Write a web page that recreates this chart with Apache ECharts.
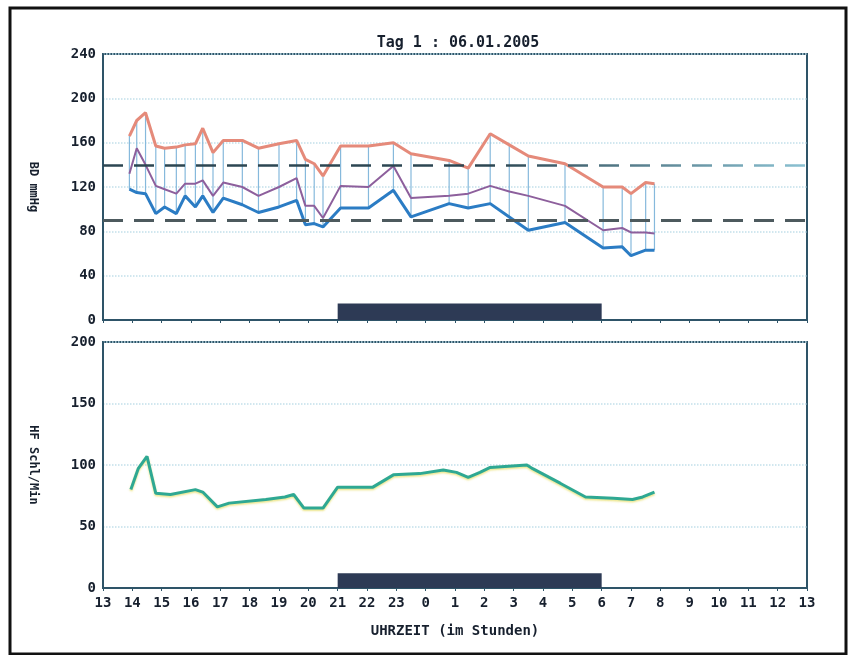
<!DOCTYPE html>
<html lang="de" style="height: 100%">
<head>
  <meta charset="utf-8">
  <title>Tag 1 : 06.01.2005</title>
</head>
<body style="height: 100%; margin: 0; background: #ffffff">
  <div id="container" style="width: 849px; height: 655px"></div>

  <script type="text/javascript" src="https://cdn.jsdelivr.net/npm/echarts@6.0.0/dist/echarts.min.js"></script>

  <script type="text/javascript">
    // Blutdruck (Stunden ab 13 Uhr, nach Mitternacht +24)
    var bpTimes = [13.9, 14.15, 14.45, 14.8, 15.1, 15.5, 15.8, 16.15, 16.4, 16.75, 17.1, 17.75, 18.3, 19.0, 19.6, 19.9, 20.2, 20.5,
                   21.1, 22.05, 22.9, 23.5, 24.8, 25.45, 26.2, 26.85, 27.5, 28.75, 30.05, 30.7, 31.0, 31.5, 31.8];
    var sysVals = [166, 180, 187, 157, 155, 156, 158, 159, 173, 151, 162, 162, 155, 159, 162, 145, 141, 130,
                   157, 157, 160, 150, 144, 137, 168, 158, 148, 141, 120, 120, 114, 124, 123];
    var mapVals = [132, 155, 140, 121, 118, 114, 123, 123, 126, 112, 124, 120, 112, 120, 128, 103, 103, 92,
                   121, 120, 139, 110, 112, 114, 121, 116, 112, 103, 81, 83, 79, 79, 78];
    var diaVals = [118, 115, 114, 96, 102, 96, 112, 102, 112, 97, 110, 104, 97, 102, 108, 86, 87, 84,
                   101, 101, 117, 93, 105, 101, 105, 93, 81, 88, 65, 66, 58, 63, 63];

    // Herzfrequenz
    var hfTimes = [13.95, 14.2, 14.5, 14.8, 15.3, 16.15, 16.4, 16.9, 17.3, 18.55, 19.2, 19.5, 19.85, 20.5, 21.0, 22.2,
                   22.9, 23.8, 24.6, 25.05, 25.45, 25.85, 26.2, 27.45, 27.65, 28.6, 29.45, 30.4, 31.05, 31.4, 31.8];
    var hfVals = [80, 97, 107, 77, 76, 80, 78, 66, 69, 72, 74, 76, 65, 65, 82, 82,
                  92, 93, 96, 94, 90, 94, 98, 100, 97, 85, 74, 73, 72, 74, 78];

    var bpLimits = [140, 90];
    var nightFrom = 21, nightTo = 30;
    var bpTicks = [0, 240, 40];
    var hfTicks = [0, 200, 50];

    var font = '"DejaVu Sans Mono", monospace';
    var ink = '#17202e';
    var frame = '#2e5468';

    function pairs(xs, ys) {
      return xs.map(function (x, i) { return [x, ys[i]]; });
    }

    var dom = document.getElementById('container');
    var myChart = echarts.init(dom, null, { renderer: 'canvas' });

    var xBase = {
      type: 'value', min: 13, max: 37, interval: 1,
      axisLine: { show: true, lineStyle: { color: frame, width: 2 } },
      axisTick: { show: true, length: 3, lineStyle: { color: frame } },
      splitLine: { show: false }
    };
    var yBase = {
      type: 'value',
      nameLocation: 'middle', nameRotate: -90, nameGap: 64,
      nameTextStyle: { fontFamily: font, fontWeight: 'bold', fontSize: 12, color: ink },
      axisLine: { show: true, lineStyle: { color: frame, width: 2 } },
      axisTick: { show: false },
      axisLabel: { fontFamily: font, fontWeight: 'bold', fontSize: 14, color: ink, margin: 7 },
      splitLine: { show: true, lineStyle: { color: '#c2e0ea', type: 'dotted', width: 1.5 } }
    };

    var option = {
      animation: false,
      backgroundColor: '#ffffff',
      title: {
        text: 'Tag 1 : 06.01.2005', left: 453, top: 31, textAlign: 'center',
        textStyle: { fontFamily: font, fontWeight: 'bold', fontSize: 15, color: ink }
      },
      graphic: [{
        type: 'rect', shape: { x: 10, y: 8, width: 836, height: 646 },
        style: { fill: 'none', stroke: '#111', lineWidth: 3 }, silent: true
      }],
      grid: [
        { left: 103, right: 42, top: 54, height: 266, show: true, borderColor: frame, borderWidth: 2 },
        { left: 103, right: 42, top: 342, height: 246, show: true, borderColor: frame, borderWidth: 2 }
      ],
      xAxis: [
        Object.assign({}, xBase, { gridIndex: 0, axisLabel: { show: false } }),
        Object.assign({}, xBase, {
          gridIndex: 1,
          name: 'UHRZEIT (im Stunden)', nameLocation: 'middle', nameGap: 36,
          nameTextStyle: { fontFamily: font, fontWeight: 'bold', fontSize: 14, color: ink },
          axisLabel: {
            fontFamily: font, fontWeight: 'bold', fontSize: 14, color: ink, margin: 8,
            formatter: function (v) { return String(v % 24); }
          }
        })
      ],
      yAxis: [
        Object.assign({}, yBase, { gridIndex: 0, name: 'BD mmHg', min: bpTicks[0], max: bpTicks[1], interval: bpTicks[2] }),
        Object.assign({}, yBase, { gridIndex: 1, name: 'HF Schl/Min', min: hfTicks[0], max: hfTicks[1], interval: hfTicks[2] })
      ],
      series: [
        {
          // Verbindungslinien systolisch - diastolisch
          type: 'custom', xAxisIndex: 0, yAxisIndex: 0, z: 1,
          data: bpTimes.map(function (t, i) { return [t, diaVals[i], sysVals[i]]; }),
          renderItem: function (params, api) {
            var a = api.coord([api.value(0), api.value(1)]);
            var b = api.coord([api.value(0), api.value(2)]);
            return {
              type: 'line',
              shape: { x1: a[0], y1: a[1], x2: b[0], y2: b[1] },
              style: { stroke: '#86b9dc', lineWidth: 1.2 }
            };
          }
        },
        {
          name: 'Nacht', type: 'line', xAxisIndex: 0, yAxisIndex: 0, data: [], z: 2,
          markArea: {
            silent: true,
            itemStyle: { color: '#2d3a55' },
            data: [[{ xAxis: nightFrom, yAxis: 0 }, { xAxis: nightTo, yAxis: 15 }]]
          },
          markLine: {
            silent: true, symbol: 'none', label: { show: false },
            data: [
              {
                yAxis: bpLimits[0],
                lineStyle: {
                  type: [20, 11], width: 2.5,
                  color: new echarts.graphic.LinearGradient(0, 0, 1, 0, [
                    { offset: 0, color: '#2c4652' }, { offset: 0.55, color: '#2c4652' }, { offset: 1, color: '#8cc3d4' }
                  ])
                }
              },
              { yAxis: bpLimits[1], lineStyle: { type: [20, 11], width: 3, color: '#4d5a5e' } }
            ]
          }
        },
        {
          name: 'systolisch', type: 'line', xAxisIndex: 0, yAxisIndex: 0, z: 3,
          data: pairs(bpTimes, sysVals), symbol: 'none',
          lineStyle: { color: '#e58a7a', width: 3 }
        },
        {
          name: 'mittel', type: 'line', xAxisIndex: 0, yAxisIndex: 0, z: 3,
          data: pairs(bpTimes, mapVals), symbol: 'none',
          lineStyle: { color: '#8d5f9c', width: 2 }
        },
        {
          name: 'diastolisch', type: 'line', xAxisIndex: 0, yAxisIndex: 0, z: 3,
          data: pairs(bpTimes, diaVals), symbol: 'none',
          lineStyle: { color: '#2b7cc4', width: 3 }
        },
        {
          name: 'Nacht HF', type: 'line', xAxisIndex: 1, yAxisIndex: 1, data: [], z: 2,
          markArea: {
            silent: true,
            itemStyle: { color: '#2d3a55' },
            data: [[{ xAxis: nightFrom, yAxis: 0 }, { xAxis: nightTo, yAxis: 12 }]]
          }
        },
        {
          name: 'HF', type: 'line', xAxisIndex: 1, yAxisIndex: 1, z: 3,
          data: pairs(hfTimes, hfVals), symbol: 'none',
          lineStyle: { color: '#2ea893', width: 3, shadowColor: 'rgba(230,220,90,0.7)', shadowBlur: 2, shadowOffsetY: 1.5 }
        }
      ]
    };

    myChart.setOption(option);

    window.addEventListener('resize', function () {
      myChart.resize();
    });
  </script>
</body>
</html>
